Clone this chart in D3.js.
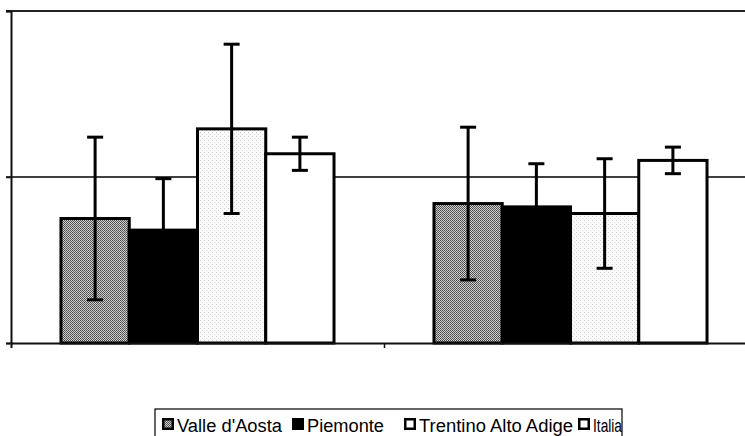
<!DOCTYPE html>
<html>
<head>
<meta charset="utf-8">
<script src="https://cdn.jsdelivr.net/npm/d3@7/dist/d3.min.js"></script>
<style>
  html, body { margin: 0; padding: 0; background: #fff; }
  svg { display: block; font-family: "Liberation Sans", Arial, sans-serif; }
</style>
</head>
<body>
<svg id="chart" width="745" height="436"></svg>
<script>
// ---- data ----
const categories = ["Gruppo 1", "Gruppo 2"];
const seriesNames = ["Valle d'Aosta", "Piemonte", "Trentino Alto Adige", "Italia"];
const valleValues     = [0.75, 0.84];
const piemonteValues  = [0.68, 0.82];
const trentinoValues  = [1.29, 0.78];
const italiaValues    = [1.14, 1.10];
const valleErrors     = [0.49, 0.46];
const piemonteErrors  = [0.31, 0.26];
const trentinoErrors  = [0.51, 0.33];
const italiaErrors    = [0.10, 0.08];
const yTicks = [0, 1, 2];
const referenceValue = 1;

const seriesValues = [valleValues, piemonteValues, trentinoValues, italiaValues];
const seriesErrors = [valleErrors, piemonteErrors, trentinoErrors, italiaErrors];

const svg = d3.select("#chart");
const defs = svg.append("defs");

// halftone-like patterns
const pValle = defs.append("pattern").attr("id", "pValle")
  .attr("width", 2).attr("height", 2).attr("patternUnits", "userSpaceOnUse");
pValle.append("rect").attr("width", 2).attr("height", 2).attr("fill", "#d0d0d0");
pValle.append("rect").attr("x", 0).attr("y", 0).attr("width", 1).attr("height", 1).attr("fill", "#4a4a4a");
pValle.append("rect").attr("x", 1).attr("y", 1).attr("width", 1).attr("height", 1).attr("fill", "#5a5a5a");

const pTrent = defs.append("pattern").attr("id", "pTrent")
  .attr("width", 4).attr("height", 4).attr("patternUnits", "userSpaceOnUse");
pTrent.append("rect").attr("width", 4).attr("height", 4).attr("fill", "#fafafa");
pTrent.append("rect").attr("x", 0).attr("y", 0).attr("width", 1).attr("height", 1).attr("fill", "#cfcfcf");
pTrent.append("rect").attr("x", 2).attr("y", 2).attr("width", 1).attr("height", 1).attr("fill", "#dcdcdc");

const seriesFill = ["url(#pValle)", "#000", "url(#pTrent)", "#fff"];

// ---- scales ----
const plotLeft = 11, plotRight = 757, plotTop = 11, plotBottom = 343;
const x0 = d3.scaleBand().domain(categories).range([plotLeft, plotRight])
  .paddingInner(0.268).paddingOuter(0.134);
const x1 = d3.scaleBand().domain(seriesNames).range([0, x0.bandwidth()]);
const y = d3.scaleLinear().domain([0, 2]).range([plotBottom, plotTop]);

// reference line (behind bars)
svg.append("line")
  .attr("x1", plotLeft - 5).attr("x2", 745)
  .attr("y1", y(referenceValue)).attr("y2", y(referenceValue))
  .attr("stroke", "#000").attr("stroke-width", 1.4);

// top frame line
svg.append("line")
  .attr("x1", plotLeft - 5).attr("x2", 745)
  .attr("y1", plotTop).attr("y2", plotTop)
  .attr("stroke", "#222").attr("stroke-width", 2);

// bars
const data = [];
categories.forEach((c, ci) => {
  seriesNames.forEach((s, si) => {
    data.push({ cat: c, ser: s, si, v: seriesValues[si][ci], e: seriesErrors[si][ci] });
  });
});

svg.append("g").selectAll("rect").data(data).join("rect")
  .attr("x", d => x0(d.cat) + x1(d.ser))
  .attr("y", d => y(d.v))
  .attr("width", x1.bandwidth())
  .attr("height", d => y(0) - y(d.v))
  .attr("fill", d => seriesFill[d.si])
  .attr("stroke", "#000")
  .attr("stroke-width", 3);

// error bars
const eg = svg.append("g").attr("stroke", "#000").attr("stroke-width", 3);
data.forEach(d => {
  const cx = x0(d.cat) + x1(d.ser) + x1.bandwidth() / 2;
  eg.append("line").attr("x1", cx).attr("x2", cx)
    .attr("y1", y(d.v + d.e)).attr("y2", y(d.v - d.e));
  [d.v + d.e, d.v - d.e].forEach(val => {
    eg.append("line").attr("x1", cx - 8).attr("x2", cx + 8)
      .attr("y1", y(val)).attr("y2", y(val));
  });
});

// axes
const yAxis = d3.axisLeft(y).tickValues(yTicks).tickSize(5).tickFormat("");
svg.append("g").attr("transform", `translate(${plotLeft},0)`).call(yAxis)
  .call(g => g.select(".domain").attr("stroke", "#111").attr("stroke-width", 2))
  .call(g => g.selectAll(".tick line").attr("stroke", "#111").attr("stroke-width", 1.5));

const xAxis = d3.axisBottom(d3.scaleLinear().domain([plotLeft, plotRight]).range([plotLeft, plotRight]))
  .tickValues([x0(categories[1]) - x0.step() * x0.paddingInner() / 2]).tickSize(5).tickFormat("");
svg.append("g").attr("transform", `translate(0,${plotBottom})`).call(xAxis)
  .call(g => g.select(".domain").attr("stroke", "#111").attr("stroke-width", 2))
  .call(g => g.selectAll(".tick line").attr("stroke", "#111").attr("stroke-width", 1.5));

// legend
const legend = svg.append("g");
legend.append("rect").attr("x", 155).attr("y", 409).attr("width", 467).attr("height", 40)
  .attr("fill", "#fff").attr("stroke", "#000").attr("stroke-width", 1.2);
const legendX = [162, 292, 404, 578];
const legendW = [105, 77, 154, 29];
const legendSym = ["url(#pValle)", "#000", "#fff", "#fff"];
seriesNames.forEach((s, i) => {
  legend.append("rect").attr("x", legendX[i]).attr("y", 418).attr("width", 12).attr("height", 12)
    .attr("fill", "#000");
  legend.append("rect").attr("x", legendX[i] + 2.5).attr("y", 420.5).attr("width", 7).attr("height", 7)
    .attr("fill", legendSym[i]);
  legend.append("text").attr("x", legendX[i] + 15).attr("y", 432)
    .attr("font-size", 18).attr("fill", "#000")
    .attr("textLength", legendW[i]).attr("lengthAdjust", "spacingAndGlyphs")
    .text(s);
});
</script>
</body>
</html>
